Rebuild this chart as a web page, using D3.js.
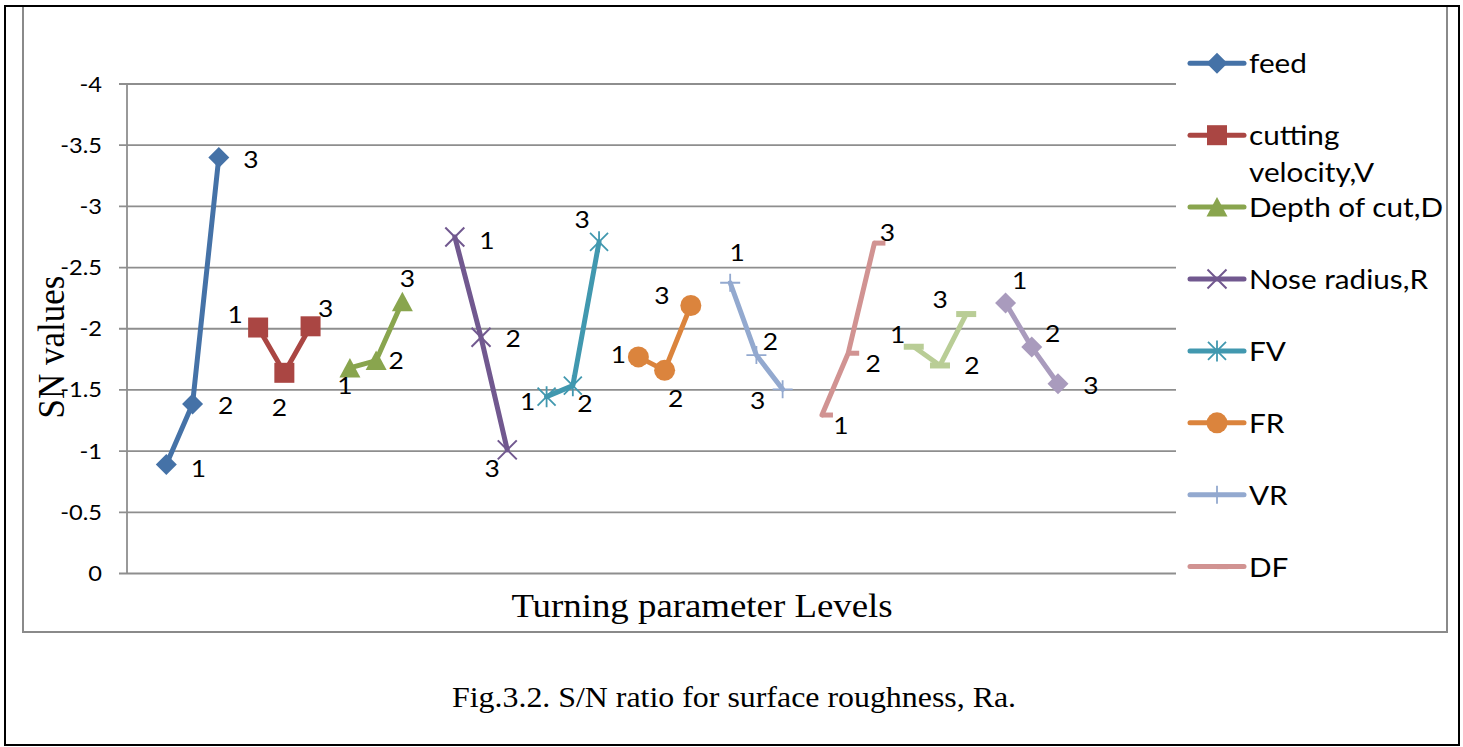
<!DOCTYPE html>
<html>
<head>
<meta charset="utf-8">
<script src="https://cdn.jsdelivr.net/npm/d3@7"></script>
<style>
  body { margin: 0; background: #fff; }
  svg { display: block; }
  .sans { font-family: Lato, "Open Sans", sans-serif; fill: #000; }
  .serif { font-family: "Liberation Serif", "Times New Roman", serif; fill: #000; }
</style>
</head>
<body>
<div id="chart"></div>
<script>
// ---- data ----
const seriesNames = ["feed", "cutting velocity,V", "Depth of cut,D", "Nose radius,R", "FV", "FR", "VR", "DF", "DV", "DR"];
const levelLabels = ["1", "2", "3"];
// first level slot of each group on the "Turning parameter Levels" axis
const groupStart = [1.5, 5, 8.5, 12.5, 16, 19.5, 23, 26.5, 30, 33.5];

const feed = [-0.89, -1.385, -3.40];
const cuttingVelocity = [-2.01, -1.64, -2.02];
const depthOfCut = [-1.68, -1.74, -2.22];
const noseRadius = [-2.75, -1.93, -1.01];
const fv = [-1.445, -1.535, -2.71];
const fr = [-1.77, -1.66, -2.19];
const vr = [-2.376, -1.785, -1.505];
const df = [-1.295, -1.80, -2.70];
const dv = [-1.853, -1.70, -2.12];
const dr = [-2.21, -1.85, -1.55];

const yTicks = [0, -0.5, -1, -1.5, -2, -2.5, -3, -3.5, -4];
const legendCount = 8; // legend box only shows the first 8 entries

// ---- styling ----
const colors = ["#4572A7", "#AA4643", "#89A54E", "#71588F", "#4198AF", "#DB843D", "#93A9CF", "#D19392", "#B9CD96", "#A99BBD"];
const markers = ["diamond", "square", "triangle", "x", "asterisk", "circle", "plus", "dashRight", "dash", "diamond"];
// label nudges (px) relative to each point
const labelNudge = [
  [[32, 4], [33, 1], [32, 2]],
  [[-23, -13], [-5, 35], [15, -18]],
  [[-5, 18], [20, 0], [5, -23]],
  [[32, 4], [32, 1], [-15, 19]],
  [[-19, 5], [12, 18], [-17, -22]],
  [[-20, -2], [11, 28], [-29, -10]],
  [[7, -30], [14, -14], [-25, 11]],
  [[19, 10], [25, 10], [13, -11]],
  [[-16, -12], [32, 0], [-26, -15]],
  [[14, -23], [21, -14], [33, 2]]
];
const SX = 1.1; // the source picture is slightly stretched horizontally

const values = [feed, cuttingVelocity, depthOfCut, noseRadius, fv, fr, vr, df, dv, dr];
const series = seriesNames.map((name, i) => ({
  name,
  color: colors[i],
  marker: markers[i],
  points: values[i].map((v, j) => ({ slot: groupStart[i] + j, v, lab: levelLabels[j], nudge: labelNudge[i][j] }))
}));

const W = 1463, H = 747;
const plot = { left: 127, right: 1176, top: 84, bottom: 573.5 };

const svg = d3.select("#chart").append("svg").attr("width", W).attr("height", H);

function txt(parent, x, y, str, cls, size, anchor) {
  return parent.append("text")
    .attr("class", cls)
    .attr("transform", `translate(${x},${y}) scale(${SX},1)`)
    .attr("font-size", size)
    .attr("text-anchor", anchor || "start")
    .text(str);
}

function drawMarker(g, type, color) {
  if (type === "diamond") {
    g.append("path").attr("d", "M0,-10.5L10.5,0L0,10.5L-10.5,0Z").attr("fill", color);
  } else if (type === "square") {
    g.append("rect").attr("x", -10).attr("y", -10).attr("width", 20).attr("height", 20).attr("fill", color);
  } else if (type === "triangle") {
    g.append("path").attr("d", "M0,-10L10.5,9.5L-10.5,9.5Z").attr("fill", color);
  } else if (type === "x") {
    g.append("path").attr("d", "M-9.5,-9.5L9.5,9.5M-9.5,9.5L9.5,-9.5")
      .attr("stroke", color).attr("stroke-width", 2).attr("fill", "none");
  } else if (type === "asterisk") {
    g.append("path").attr("d", "M-9,-9L9,9M-9,9L9,-9M0,-10.5L0,10.5")
      .attr("stroke", color).attr("stroke-width", 1.8).attr("fill", "none");
  } else if (type === "circle") {
    g.append("circle").attr("r", 10.5).attr("fill", color);
  } else if (type === "plus") {
    g.append("path").attr("d", "M-10,0L10,0M0,-9L0,9")
      .attr("stroke", color).attr("stroke-width", 1.8).attr("fill", "none");
  } else if (type === "dashRight") {
    g.append("rect").attr("x", 0).attr("y", -2.5).attr("width", 11).attr("height", 5).attr("fill", color);
  } else if (type === "dash") {
    g.append("rect").attr("x", -10).attr("y", -3).attr("width", 20).attr("height", 6).attr("fill", color);
  }
}

// frames
svg.append("rect").attr("x", 23).attr("y", 6).attr("width", 1424).attr("height", 626)
  .attr("fill", "#fff").attr("stroke", "#8a8a8a").attr("stroke-width", 2);
svg.append("rect").attr("x", 5).attr("y", 6).attr("width", 1454).attr("height", 739)
  .attr("fill", "none").attr("stroke", "#000").attr("stroke-width", 2);

const x = d3.scaleLinear().domain([0, 40]).range([plot.left, plot.right]);
const y = d3.scaleLinear().domain([0, -4]).range([plot.bottom, plot.top]);

// gridlines + tick labels
const grid = svg.append("g");
grid.selectAll("line.grid")
  .data(yTicks)
  .enter()
  .append("line")
  .attr("x1", plot.left - 8)
  .attr("x2", plot.right)
  .attr("y1", (d) => y(d))
  .attr("y2", (d) => y(d))
  .attr("stroke", "#8e8e8e")
  .attr("stroke-width", 1.8);

grid.append("line")
  .attr("x1", plot.left).attr("x2", plot.left)
  .attr("y1", plot.top).attr("y2", plot.bottom)
  .attr("stroke", "#8e8e8e").attr("stroke-width", 1.8);

const fmt = (d) => (d === 0 ? "0" : String(d));
yTicks.forEach((t) => {
  txt(grid, 102, y(t) + 7.5, fmt(t), "sans", 21.5, "end");
});

// axis titles
svg.append("text")
  .attr("class", "serif")
  .attr("transform", `translate(64,347) rotate(-90) scale(1,${SX})`)
  .attr("font-size", 35)
  .attr("text-anchor", "middle")
  .text("SN values");

txt(svg, 702, 617, "Turning parameter Levels", "serif", 33.5, "middle");
txt(svg, 734, 707, "Fig.3.2. S/N ratio for surface roughness, Ra.", "serif", 29, "middle");

// series
const line = d3.line().x((d) => x(d.slot)).y((d) => y(d.v));

const sg = svg.selectAll("g.series")
  .data(series)
  .enter()
  .append("g")
  .attr("class", "series");

sg.append("path")
  .attr("d", (d) => line(d.points))
  .attr("fill", "none")
  .attr("stroke", (d) => d.color)
  .attr("stroke-width", 5)
  .attr("stroke-linejoin", "round")
  .attr("stroke-linecap", "round");

sg.each(function (s) {
  const g = d3.select(this);
  s.points.forEach((p) => {
    const m = g.append("g").attr("transform", `translate(${x(p.slot)},${y(p.v)})`);
    drawMarker(m, s.marker, s.color);
  });
  s.points.forEach((p) => {
    txt(g, x(p.slot) + p.nudge[0], y(p.v) + p.nudge[1] + 8.5, p.lab, "sans", 24, "middle");
  });
});

// legend
const legY = d3.scaleLinear().domain([0, 7]).range([63.3, 566.6]);
const leg = svg.append("g");
series.slice(0, legendCount).forEach((s, i) => {
  const ly = legY(i);
  leg.append("line")
    .attr("x1", 1190).attr("x2", 1244).attr("y1", ly).attr("y2", ly)
    .attr("stroke", s.color).attr("stroke-width", 5).attr("stroke-linecap", "round");
  drawMarker(leg.append("g").attr("transform", `translate(1217,${ly})`), s.marker, s.color);
  const parts = s.name === "cutting velocity,V" ? ["cutting", "velocity,V"] : [s.name];
  parts.forEach((t, k) => {
    txt(leg, 1249, ly + 10 + k * 37, t, "sans", 27, "start");
  });
});
</script>
</body>
</html>
